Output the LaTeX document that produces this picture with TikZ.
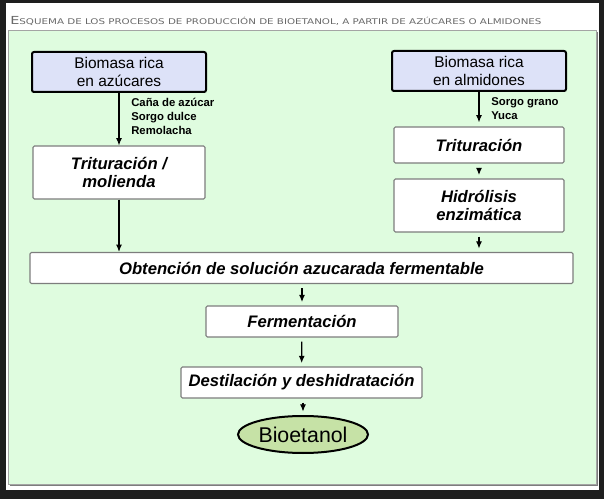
\documentclass[tikz,border=0pt]{standalone}
\usepackage{fontspec}
\setmainfont{Liberation Sans}
\newfontfamily\titlefont{DejaVu Sans}
\usepackage{tikz}
\usepackage{xcolor}
\usetikzlibrary{shapes.geometric}
\usetikzlibrary{arrows.meta}

\definecolor{screen}{RGB}{30,30,30}
\definecolor{panelgreen}{RGB}{223,252,223}
\definecolor{sourceblue}{RGB}{221,226,248}
\definecolor{productgreen}{RGB}{198,226,166}
\definecolor{framegray}{RGB}{125,125,125}
\definecolor{titlegray}{RGB}{105,105,105}

\newcommand{\fakesc}[2]{\scalebox{1.31}[1]{{\fontsize{8.3}{9}\selectfont #1}{\fontsize{5.9}{7}\selectfont #2}}}

\begin{document}
\begin{tikzpicture}[x=0.75pt, y=-0.75pt,
    source/.style={rectangle, rounded corners=1.5pt, draw=black, line width=1.5pt, fill=sourceblue,
        minimum width=130.5pt, minimum height=30pt, align=center, font=\fontsize{11.6}{13.5}\selectfont},
    stage/.style={rectangle, rounded corners=1pt, draw=framegray, line width=0.8pt, fill=white,
        align=center, inner sep=1pt, font=\fontsize{12.5}{14}\selectfont\bfseries\itshape},
    product/.style={ellipse, draw=black, line width=1.5pt, fill=productgreen,
        minimum width=97.5pt, minimum height=27.75pt, inner sep=0pt, font=\fontsize{16}{18}\selectfont},
    crops/.style={inner sep=0pt, align=left, font=\fontsize{8.5}{10.5}\selectfont\bfseries},
    flow/.style={-{Latex[length=5.5pt,width=4.5pt]}, line width=0.9pt},
    gap/.style={shorten <=3pt, shorten >=2.5pt}]

    \fill[screen] (0,0) rectangle (604,499);
    \fill[white] (6,3) rectangle (599,490);
    \node[anchor=base west, inner sep=0pt, text=titlegray, font=\titlefont] (title) at (10,25)
        {\fakesc{E}{SQUEMA DE LOS PROCESOS DE PRODUCCIÓN DE BIOETANOL, A PARTIR DE AZÚCARES O ALMIDONES}};
    \fill[framegray] (10,32) rectangle (598,486);
    \draw[draw=framegray!70, line width=0.6pt, fill=panelgreen] (8,30) rectangle (596,484);

    \node[source] (azucar) at (119,72) {Biomasa rica\\en azúcares};
    \node[source] (almidon) at (479,71) {Biomasa rica\\en almidones};
    \node[stage, minimum width=129pt, minimum height=39.75pt] (molienda) at (119,172.5) {Trituración /\\molienda};
    \node[stage, minimum width=127.5pt, minimum height=27pt] (trituracion) at (479,145) {Trituración};
    \node[stage, minimum width=127.5pt, minimum height=39.75pt] (hidrolisis) at (479,205.5) {Hidrólisis\\enzimática};
    \node[stage, minimum width=407.25pt, minimum height=23.25pt] (solucion) at (301.5,268) {Obtención de solución azucarada fermentable};
    \node[stage, minimum width=144pt, minimum height=23.25pt] (fermentacion) at (302,321.5) {Fermentación};
    \node[stage, minimum width=180.75pt, minimum height=23.25pt] (destilacion) at (301.5,382.5) {Destilación y deshidratación};
    \node[product] (bioetanol) at (303,434.5) {Bioetanol};

    \node[crops, anchor=west] (azucarcrops) at (131,116) {Caña de azúcar\\Sorgo dulce\\Remolacha};
    \node[crops, anchor=west] (almidoncrops) at (491,108.5) {Sorgo grano\\Yuca};

    \draw[flow] (azucar) -- (molienda);
    \draw[flow] (molienda) -- (molienda.south |- solucion.north);
    \draw[flow, shorten >=3pt] (almidon) -- (trituracion);
    \draw[flow, gap] (trituracion) -- (hidrolisis);
    \draw[flow, gap] (hidrolisis) -- (hidrolisis.south |- solucion.north);
    \draw[flow, gap] (solucion.south -| fermentacion.north) -- (fermentacion);
    \draw[flow, gap] (fermentacion) -- (destilacion);
    \draw[flow, gap] (destilacion.south -| bioetanol.north) -- (bioetanol);

\end{tikzpicture}
\end{document}
